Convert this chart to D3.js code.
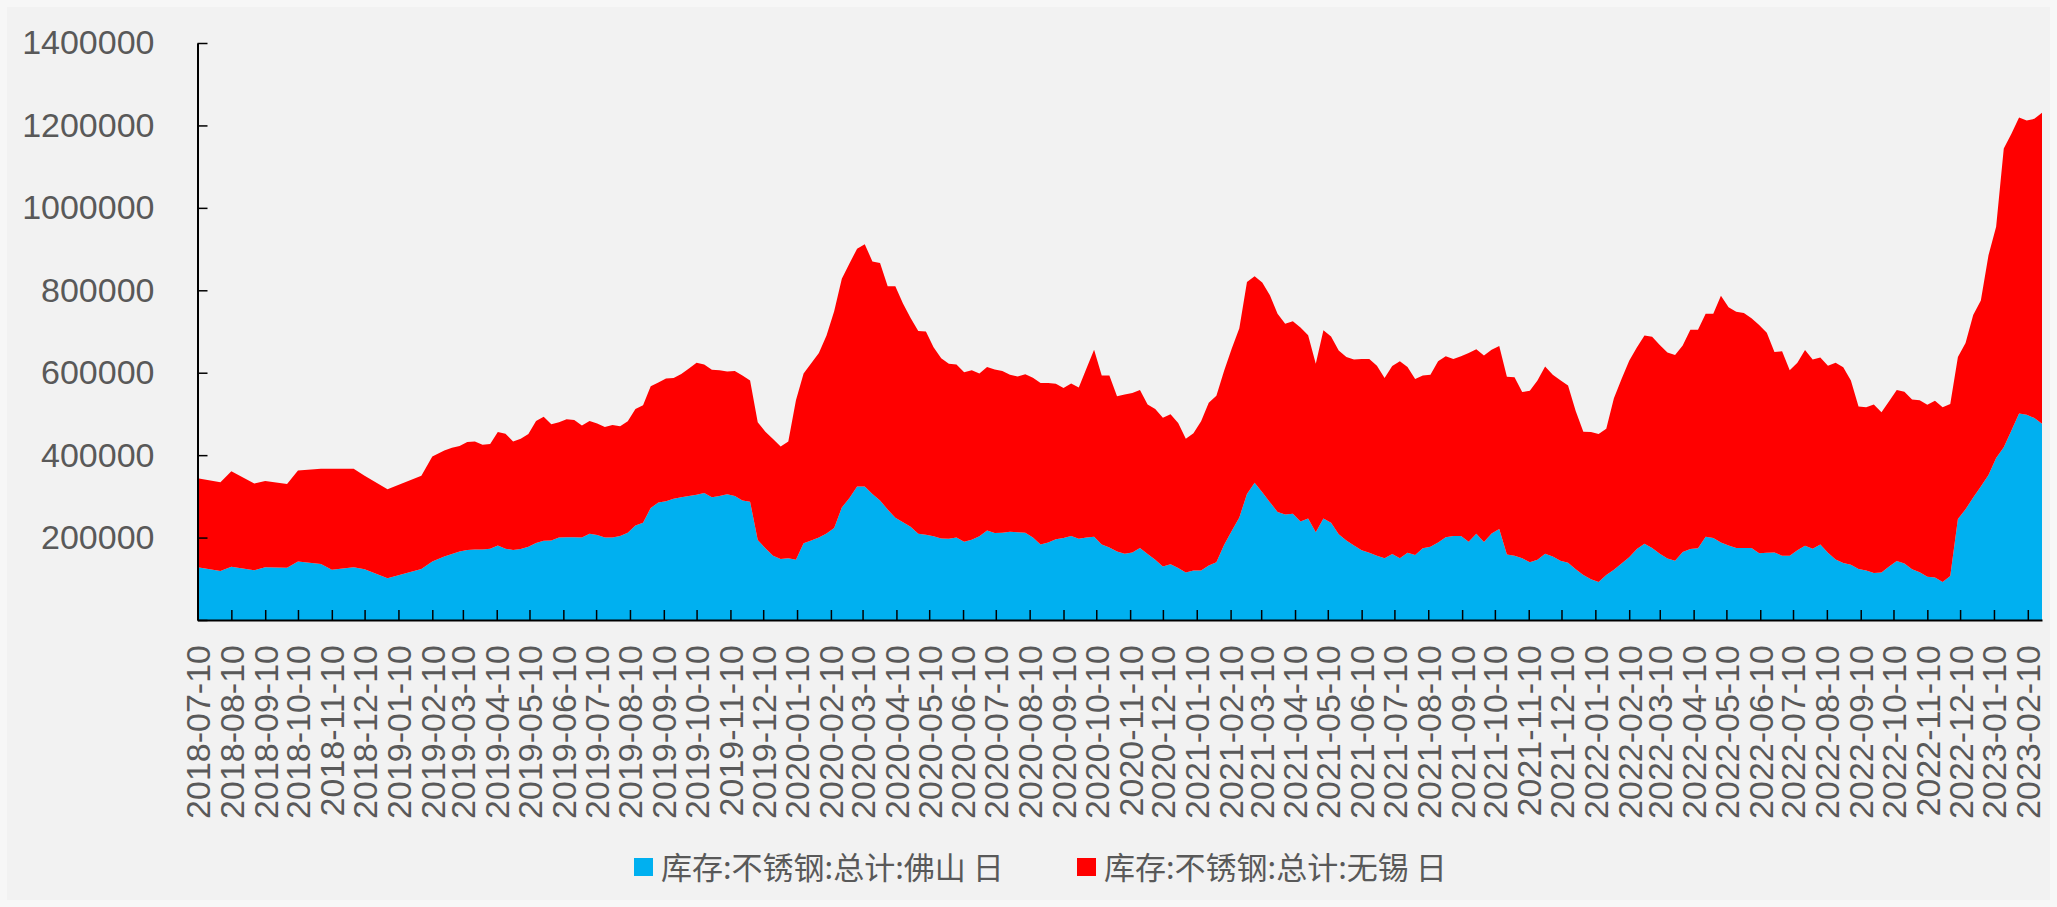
<!DOCTYPE html>
<html>
<head>
<meta charset="utf-8">
<script src="https://cdnjs.cloudflare.com/ajax/libs/d3/7.8.5/d3.min.js"></script>
<style>
  html, body { margin: 0; padding: 0; background: #f7f7f7; }
  svg { display: block; }
</style>
</head>
<body>
<div id="graph"></div>
<script>
// weekly stock readings, thousand tonnes
var dates = [
  "2018-07-10","2018-07-31","2018-08-10","2018-08-31","2018-09-10","2018-09-30","2018-10-10","2018-10-31",
  "2018-11-10","2018-11-30","2018-12-10","2018-12-31","2019-01-31","2019-02-10","2019-02-21",
  "2019-02-28","2019-03-07","2019-03-14","2019-03-21","2019-03-28","2019-04-04","2019-04-11","2019-04-18","2019-04-25",
  "2019-05-02","2019-05-09","2019-05-16","2019-05-23","2019-05-30","2019-06-06","2019-06-13","2019-06-20","2019-06-27",
  "2019-07-04","2019-07-11","2019-07-18","2019-07-25","2019-08-01","2019-08-08","2019-08-15","2019-08-22","2019-08-29",
  "2019-09-05","2019-09-12","2019-09-19","2019-09-26","2019-10-03","2019-10-10","2019-10-17","2019-10-24","2019-10-31",
  "2019-11-07","2019-11-14","2019-11-21","2019-11-28","2019-12-05","2019-12-12","2019-12-19","2019-12-26",
  "2020-01-02","2020-01-09","2020-01-16","2020-01-23","2020-01-30","2020-02-06","2020-02-13","2020-02-20","2020-02-27",
  "2020-03-05","2020-03-12","2020-03-19","2020-03-26","2020-04-02","2020-04-09","2020-04-16","2020-04-23","2020-04-30",
  "2020-05-07","2020-05-14","2020-05-21","2020-05-28","2020-06-04","2020-06-11","2020-06-18","2020-06-25",
  "2020-07-02","2020-07-09","2020-07-16","2020-07-23","2020-07-30","2020-08-06","2020-08-13","2020-08-20","2020-08-27",
  "2020-09-03","2020-09-10","2020-09-17","2020-09-24","2020-10-01","2020-10-08","2020-10-15","2020-10-22","2020-10-29",
  "2020-11-05","2020-11-12","2020-11-19","2020-11-26","2020-12-03","2020-12-10","2020-12-17","2020-12-24","2020-12-31",
  "2021-01-07","2021-01-14","2021-01-21","2021-01-28","2021-02-04","2021-02-11","2021-02-18","2021-02-25",
  "2021-03-04","2021-03-11","2021-03-18","2021-03-25","2021-04-01","2021-04-08","2021-04-15","2021-04-22","2021-04-29",
  "2021-05-06","2021-05-13","2021-05-20","2021-05-27","2021-06-03","2021-06-10","2021-06-17","2021-06-24",
  "2021-07-01","2021-07-08","2021-07-15","2021-07-22","2021-07-29","2021-08-05","2021-08-12","2021-08-19","2021-08-26",
  "2021-09-02","2021-09-09","2021-09-16","2021-09-23","2021-09-30","2021-10-07","2021-10-14","2021-10-21","2021-10-28",
  "2021-11-04","2021-11-11","2021-11-18","2021-11-25","2021-12-02","2021-12-09","2021-12-16","2021-12-23","2021-12-30",
  "2022-01-06","2022-01-13","2022-01-20","2022-01-27","2022-02-03","2022-02-10","2022-02-17","2022-02-24",
  "2022-03-03","2022-03-10","2022-03-17","2022-03-24","2022-03-31","2022-04-07","2022-04-14","2022-04-21","2022-04-28",
  "2022-05-05","2022-05-12","2022-05-19","2022-05-26","2022-06-02","2022-06-09","2022-06-16","2022-06-23","2022-06-30",
  "2022-07-07","2022-07-14","2022-07-21","2022-07-28","2022-08-04","2022-08-11","2022-08-18","2022-08-25",
  "2022-09-01","2022-09-08","2022-09-15","2022-09-22","2022-09-29","2022-10-06","2022-10-13","2022-10-20","2022-10-27",
  "2022-11-03","2022-11-10","2022-11-17","2022-11-24","2022-12-01","2022-12-08","2022-12-15","2022-12-22","2022-12-29",
  "2023-01-05","2023-01-12","2023-01-19","2023-01-26","2023-02-02","2023-02-09","2023-02-16","2023-02-23"
];

var foshan = [
  128,119,129,121,128,127,142,136,122,128,123,101,124,142,154,
  160,166,170,171,171,173,181,173,170,172,
  178,187,192,193,200,201,201,200,209,206,
  200,200,204,212,229,236,272,285,288,294,
  298,301,304,308,298,301,305,301,290,287,
  194,174,156,148,150,146,186,193,200,210,
  223,273,296,324,324,306,290,268,248,237,
  226,209,207,203,198,197,200,190,195,203,
  217,211,212,214,213,212,200,183,188,196,
  199,204,197,200,202,183,176,166,161,164,
  175,160,146,130,135,126,115,120,120,132,
  140,182,216,249,306,333,310,286,262,256,
  258,239,246,213,246,236,208,193,181,169,
  163,156,150,160,150,163,158,174,178,188,
  201,204,204,190,209,189,210,221,159,156,
  150,140,146,161,154,144,139,123,109,99,
  92,109,122,137,152,172,185,175,161,149,
  144,165,172,174,202,199,188,181,175,175,
  175,162,163,164,156,156,169,180,173,183,
  163,147,138,134,124,120,114,115,130,143,
  137,123,116,105,103,92,107,245,269,297,
  324,352,393,419,460,501,498,490,476
];

var wuxi = [
  216,215,232,210,209,203,221,231,245,239,227,216,226,255,257,
  258,256,262,262,254,254,275,279,263,268,
  273,296,301,282,280,286,284,272,274,271,
  268,273,266,270,283,285,295,291,298,293,
  299,309,320,312,309,305,298,303,303,294,
  286,283,283,273,283,387,412,430,448,480,
  526,555,569,577,588,564,576,542,562,531,
  507,492,493,459,437,425,420,411,411,395,
  397,397,392,381,378,384,388,392,387,377,
  364,370,367,410,454,410,417,377,386,387,
  383,363,366,361,364,352,325,333,362,395,
  404,422,442,459,514,501,509,502,481,463,
  467,471,445,409,457,452,446,445,451,464,
  470,461,437,456,478,451,427,419,417,440,
  439,429,436,458,448,453,446,444,431,433,
  403,416,435,454,441,438,430,384,348,357,
  359,355,416,448,477,489,505,512,506,500,
  499,501,532,530,541,544,599,578,573,570,
  557,554,534,486,496,450,455,475,459,454,
  454,477,475,447,394,396,409,389,401,415,
  417,412,417,417,429,424,417,393,403,443,
  451,533,561,725,720,718,714,726,755
];

var tickLabels = [
  "2018-07-10","2018-08-10","2018-09-10","2018-10-10","2018-11-10","2018-12-10",
  "2019-01-10","2019-02-10","2019-03-10","2019-04-10","2019-05-10","2019-06-10",
  "2019-07-10","2019-08-10","2019-09-10","2019-10-10","2019-11-10","2019-12-10",
  "2020-01-10","2020-02-10","2020-03-10","2020-04-10","2020-05-10","2020-06-10",
  "2020-07-10","2020-08-10","2020-09-10","2020-10-10","2020-11-10","2020-12-10",
  "2021-01-10","2021-02-10","2021-03-10","2021-04-10","2021-05-10","2021-06-10",
  "2021-07-10","2021-08-10","2021-09-10","2021-10-10","2021-11-10","2021-12-10",
  "2022-01-10","2022-02-10","2022-03-10","2022-04-10","2022-05-10","2022-06-10",
  "2022-07-10","2022-08-10","2022-09-10","2022-10-10","2022-11-10","2022-12-10",
  "2023-01-10","2023-02-10"
];

var yTicks = [0, 200000, 400000, 600000, 800000, 1000000, 1200000, 1400000];

var seriesNames = ["库存:不锈钢:总计:佛山 日", "库存:不锈钢:总计:无锡 日"];
var colors = ["#00B0F0", "#FF0000"];

var width = 2057, height = 907;
var plotLeft = 197.5, plotRight = 2042, plotTop = 43, plotBottom = 620;
var labelFont = "'Liberation Sans', Arial, sans-serif";
var cjkFont = "'Noto Sans CJK SC', 'Liberation Sans', sans-serif";

var parse = d3.timeParse("%Y-%m-%d");

var table = dates.map(function(d, i) {
  return { date: parse(d), foshan: foshan[i] * 1000, wuxi: wuxi[i] * 1000 };
});

var chart = d3.select("#graph").append("svg")
  .attr("width", width)
  .attr("height", height);

chart.append("rect")
  .attr("x", 7).attr("y", 7)
  .attr("width", width - 14).attr("height", height - 14)
  .attr("fill", "#f2f2f2");

var xScale = d3.scaleTime()
  .domain([table[0].date, table[table.length - 1].date])
  .range([plotLeft, plotRight]);

var yScale = d3.scaleLinear()
  .domain([0, 1400000])
  .range([plotBottom, plotTop]);

var stack = d3.stack().keys(["foshan", "wuxi"]);
var layers = stack(table);

var area = d3.area()
  .x(function(d) { return xScale(d.data.date); })
  .y0(function(d) { return yScale(d[0]); })
  .y1(function(d) { return yScale(d[1]); });

chart.selectAll("path.layer")
  .data(layers)
  .enter()
  .append("path")
  .attr("class", "layer")
  .attr("d", area)
  .attr("fill", function(d, i) { return colors[i]; });

//Create Y axis
var yAxis = chart.append("g")
  .attr("transform", "translate(" + plotLeft + ",0)")
  .call(d3.axisLeft(yScale)
    .tickValues(yTicks)
    .tickSizeInner(-10)
    .tickSizeOuter(0)
    .tickPadding(43)
    .tickFormat(function(d) { return d === 0 ? "" : d; }));

yAxis.select(".domain").attr("stroke", "#000").attr("stroke-width", 2);
yAxis.selectAll(".tick line").attr("stroke", "#000").attr("stroke-width", 1.5);
yAxis.selectAll("text")
  .attr("font-family", labelFont)
  .attr("font-size", "34px")
  .attr("fill", "#595959");

//Create X axis
var xAxis = chart.append("g")
  .attr("transform", "translate(0," + plotBottom + ")")
  .call(d3.axisBottom(xScale)
    .tickValues(tickLabels.map(parse))
    .tickSizeInner(-10)
    .tickSizeOuter(0)
    .tickFormat(d3.timeFormat("%Y-%m-%d")));

xAxis.select(".domain").attr("stroke", "#000").attr("stroke-width", 2);
xAxis.selectAll(".tick line").attr("stroke", "#000").attr("stroke-width", 1.5);
xAxis.selectAll("text")
  .attr("transform", "rotate(-90)")
  .attr("text-anchor", "end")
  .attr("x", -25)
  .attr("y", 0)
  .attr("dy", "0.35em")
  .attr("font-family", labelFont)
  .attr("font-size", "34px")
  .attr("fill", "#595959");

//Legend
var legendX = [634, 1077];
var legend = chart.selectAll("g.legend")
  .data(seriesNames)
  .enter()
  .append("g")
  .attr("class", "legend")
  .attr("transform", function(d, i) { return "translate(" + legendX[i] + ",858)"; });

legend.append("rect")
  .attr("width", 19)
  .attr("height", 18)
  .attr("fill", function(d, i) { return colors[i]; });

legend.append("text")
  .attr("x", 27)
  .attr("y", 10)
  .attr("dy", "0.35em")
  .attr("font-family", cjkFont)
  .attr("font-size", "31px")
  .attr("fill", "#595959")
  .text(function(d) { return d; });
</script>
</body>
</html>
